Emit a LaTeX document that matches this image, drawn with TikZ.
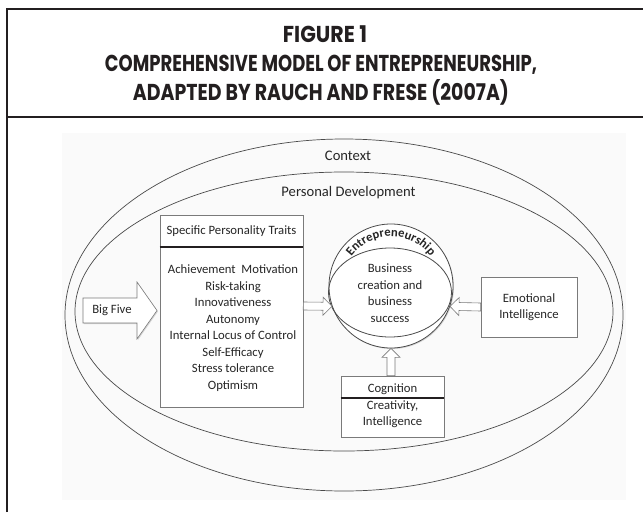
\documentclass[tikz,border=0pt]{standalone}
\usepackage{fontspec}
\setmainfont{Carlito}
\newfontfamily\titlefont{Poppins}
\usetikzlibrary{calc,shapes.geometric,decorations.text,shadows}
\definecolor{framec}{HTML}{231F20}
\definecolor{linec}{HTML}{4A4A4A}
\definecolor{boxc}{HTML}{7A7A7A}
\definecolor{txtc}{HTML}{262626}
\definecolor{bgc}{HTML}{FAFAFA}
\newcommand{\ttl}[2]{\resizebox{#1}{\height}{\titlefont\bfseries\fontsize{23}{24}\selectfont #2}}
\newcommand{\blockarrow}[2]{%
  \coordinate (bh) at ($(#2)!9pt!(#1)$);
  \draw[barrow] ($(#1)!4pt!90:(#2)$) -- ($(bh)!4pt!90:(#2)$) -- ($(bh)!9pt!90:(#2)$) -- (#2)
     -- ($(bh)!9pt!-90:(#2)$) -- ($(bh)!4pt!-90:(#2)$) -- ($(#1)!4pt!-90:(#2)$) -- cycle;}
\begin{document}
\begin{tikzpicture}[x=1pt,y=1pt,
  framel/.style={draw=framec, line width=2.6pt},
  ring/.style={ellipse, draw=linec, line width=.7pt, inner sep=0pt},
  shad/.style={drop shadow={shadow xshift=1pt, shadow yshift=-1pt, opacity=0.3}},
  box/.style={rectangle, draw=boxc, line width=.6pt, fill=white, inner sep=0pt, shad},
  lbl/.style={text=txtc, font=\fontsize{12.7}{16.5}\selectfont, align=center, inner sep=0pt},
  biglbl/.style={lbl, font=\fontsize{14.6}{17}\selectfont},
  sepline/.style={draw=framec, line width=1.6pt},
  barrow/.style={draw=boxc, line width=.6pt, fill=white, line join=miter},
  ttlnode/.style={text=framec, inner sep=0pt, anchor=base}]
\useasboundingbox (0,0) rectangle (643,-512);
% frame and title
\draw[framel] (7,-512) -- (7,-9) -- (643,-9);
\draw[framel] (7,-117) -- (643,-117);
\node[ttlnode] (t1) at (325,-42) {\ttl{84pt}{FIGURE 1}};
\node[ttlnode] (t2) at (321,-71) {\ttl{432pt}{COMPREHENSIVE MODEL OF ENTREPRENEURSHIP,}};
\node[ttlnode] (t3) at (321,-100) {\ttl{376pt}{ADAPTED BY RAUCH AND FRESE (2007A)}};
% diagram background
\fill[bgc] (62,-133) rectangle (626,-500);
% context ellipses
\node[ring, minimum width=558pt, minimum height=352pt] (context) at (344,-315) {};
\node[ring, minimum width=538pt, minimum height=279pt] (personal) at (344,-311.5) {};
\node[biglbl] (ctxl) at (348,-156) {Context};
\node[biglbl] (pdl) at (348.5,-193) {Personal Development};
% specific personality traits
\node[box, minimum width=143pt, minimum height=192pt] (spt) at (231.5,-311) {};
\node[lbl] (spth) at (231.5,-231) {Specific Personality Traits};
\coordinate (hy) at (0,-247);
\draw[sepline] (spt.west |- hy) -- (spt.east |- hy);
\node[lbl] (sptl) at (233,-328) {Achievement~ Motivation\\Risk-taking\\Innovativeness\\Autonomy\\Internal Locus of Control\\Self-Efficacy\\Stress tolerance\\Optimism};
% big five
\draw[barrow, shad] (83,-298) -- (137,-298) -- (137,-282) -- (157,-310.5) -- (137,-339) -- (137,-323) -- (83,-323) -- cycle;
\node[lbl] (bf) at (112,-310.5) {Big Five};
% entrepreneurship
\node[circle, draw=linec, line width=.8pt, fill=white, minimum size=124pt, inner sep=0pt, shad] (ent) at (391,-286) {};
\node[ellipse, draw=linec, line width=.8pt, minimum width=123pt, minimum height=89pt, inner sep=0pt] (biz) at (390,-292.5) {};
\node[lbl] (bizt) at (390,-293) {Business\\creation and\\business\\success};
\path[decorate, decoration={text along path, text align=center,
   text={|\bfseries\fontsize{12.6}{13}\selectfont\color{txtc}|Entrepreneurship}}]
   ($(ent.center)+(165:49.5pt)$) arc[start angle=165, end angle=15, radius=49.5pt];
% emotional intelligence
\node[box, minimum width=96pt, minimum height=60pt] (emo) at (529,-307) {};
\node[lbl] (emot) at (emo.center) {Emotional\\Intelligence};
% cognition
\node[box, minimum width=103pt, minimum height=61pt] (cog) at (392.5,-406.5) {};
\node[lbl] (cogh) at (392.5,-389) {Cognition};
\coordinate (cy) at (0,-398);
\draw[sepline] (cog.west |- cy) -- (cog.east |- cy);
\node[lbl] (cogt) at (392.5,-414) {Creativity,\\Intelligence};
% arrows
\coordinate (y306) at (0,-306);
\coordinate (a1s) at (spt.east |- y306);
\coordinate (a1t) at (ent.199);
\blockarrow{a1s}{a1t}
\coordinate (a2s) at (emo.west);
\coordinate (a2t) at (ent.-19.8);
\blockarrow{a2s}{a2t}
\coordinate (a3s) at (cog.north -| ent.south);
\coordinate (a3t) at (ent.south);
\blockarrow{a3s}{a3t}
\end{tikzpicture}
\end{document}
